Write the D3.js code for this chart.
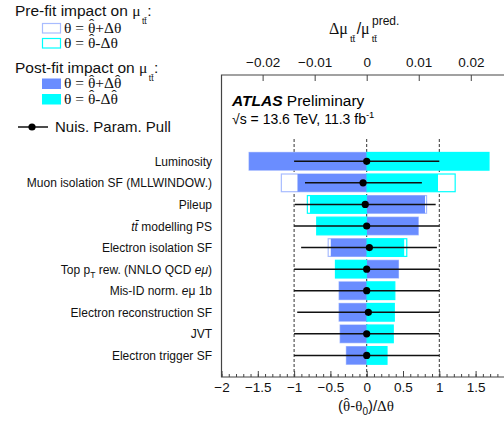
<!DOCTYPE html>
<html>
<head>
<meta charset="utf-8">
<script src="https://cdn.jsdelivr.net/npm/d3@7"></script>
<style>
  body { margin: 0; background: #fff; }
  svg { display: block; font-family: 'Liberation Sans', Arial, sans-serif; }
</style>
</head>
<body>
<svg width="504" height="422"></svg>
<script>
// nuisance parameters, top to bottom
const params = [
  'Luminosity',
  'Muon isolation SF (MLLWINDOW.)',
  'Pileup',
  '*tt\u0304* modelling PS',
  'Electron isolation SF',
  'Top p_{T} rew. (NNLO QCD *eμ*)',
  'Mis-ID norm. *e*μ 1b',
  'Electron reconstruction SF',
  'JVT',
  'Electron trigger SF',
]
// impact on mu_ttbar
const postUp = [-0.0226, -0.0133, 0.0112, 0.0099, -0.0069, 0.0061, -0.0053, -0.0053, -0.0051, -0.0039]
const postDown = [0.0235, 0.0137, -0.0109, -0.0096, 0.0072, -0.006, 0.0054, 0.0053, 0.0051, 0.0039]
const preUp = [-0.0226, -0.0164, 0.0115, 0.0099, -0.0074, 0.0061, -0.0053, -0.0053, -0.0051, -0.0039]
const preDown = [0.0235, 0.017, -0.0114, -0.0096, 0.0077, -0.006, 0.0054, 0.0053, 0.0051, 0.0039]
// pulls
const pull = [0, -0.05, -0.02, 0, 0.037, 0, 0, 0.023, 0, 0]
const pullErrLo = [1, 0.8, 0.97, 1, 0.94, 1, 1, 0.98, 1, 1]
const pullErrHi = [1, 0.81, 0.97, 1, 0.93, 1, 1, 0.98, 1, 1]

const pullTicks = [-2, -1.5, -1, -0.5, 0, 0.5, 1, 1.5]
const impactTicks = [-0.02, -0.01, 0, 0.01, 0.02]

const blue = '#6a8dff'
const cyan = '#00ffff'
const preBlue = '#a8bcff'
const frameCol = '#444'
const serif = "'Liberation Serif', 'Times New Roman', serif"

const svg = d3.select('svg')

const x = d3.scaleLinear().domain([-2, 2]).range([221.5, 511.9])
const ix = d3.scaleLinear().domain([-0.0279, 0.0279]).range([221.5, 511.9])
const y = d3.scaleLinear().domain([0, 14]).range([377, 75])
const rowY = (i) => y(params.length - i)
const barH = y(0) - y(0.82)

// rich text: *italic*, _{sub}
function rich(sel, str, subSize) {
  const parts = str.split(/(\*[^*]+\*|_\{[^}]+\})/).filter((s) => s.length)
  let shift = 0
  parts.forEach((p) => {
    const t = sel.append('tspan')
    if (p[0] === '*') {
      t.text(p.slice(1, -1)).attr('font-style', 'italic')
    } else if (p[0] === '_') {
      t.text(p.slice(2, -1)).attr('font-size', subSize).attr('dy', 4)
      shift = -4
      return
    } else {
      t.text(p)
    }
    if (shift) {
      t.attr('dy', shift)
      shift = 0
    }
  })
}

// theta with a hat on top, returns dx/dy the next tspan needs
function hatTheta(sel, size) {
  const w = 0.5 * size
  const hw = 0.333 * size
  sel.append('tspan').text('\u03b8').attr('font-family', serif)
  sel
    .append('tspan')
    .text('\u02c6')
    .attr('font-family', serif)
    .attr('dx', -(w / 2 + hw / 2))
    .attr('dy', -0.2 * size)
  return { dx: w / 2 - hw / 2, dy: 0.2 * size }
}

// dashed guide lines
svg
  .selectAll('.guide')
  .data([-1, 0, 1])
  .enter()
  .append('line')
  .attr('x1', (d) => x(d))
  .attr('x2', (d) => x(d))
  .attr('y1', y(0))
  .attr('y2', y(11.1))
  .attr('stroke', '#333')
  .attr('stroke-width', 1)
  .attr('stroke-dasharray', '3,2')

const rows = svg
  .selectAll('.row')
  .data(params)
  .enter()
  .append('g')
  .attr('class', 'row')

function bar(g, v, i) {
  return g
    .append('rect')
    .attr('x', Math.min(ix(0), ix(v)))
    .attr('width', Math.abs(ix(v) - ix(0)))
    .attr('y', rowY(i) - barH / 2)
    .attr('height', barH)
}

rows.each(function (d, i) {
  const g = d3.select(this)
  bar(g, preUp[i], i).attr('fill', 'white').attr('stroke', preBlue).attr('stroke-width', 1.2)
  bar(g, preDown[i], i).attr('fill', 'white').attr('stroke', cyan).attr('stroke-width', 1.2)
  bar(g, postUp[i], i).attr('fill', blue)
  bar(g, postDown[i], i).attr('fill', cyan)
})

// pulls
rows
  .append('line')
  .attr('x1', (d, i) => x(pull[i] - pullErrLo[i]))
  .attr('x2', (d, i) => x(pull[i] + pullErrHi[i]))
  .attr('y1', (d, i) => rowY(i))
  .attr('y2', (d, i) => rowY(i))
  .attr('stroke', '#111')
  .attr('stroke-width', 1.5)

rows
  .append('circle')
  .attr('cx', (d, i) => x(pull[i]))
  .attr('cy', (d, i) => rowY(i))
  .attr('r', 3.6)
  .attr('fill', '#000')

// labels
rows
  .append('text')
  .attr('x', 212)
  .attr('y', (d, i) => rowY(i) + 4.5)
  .attr('text-anchor', 'end')
  .attr('font-size', 12)
  .attr('fill', '#111')
  .each(function (d) {
    rich(d3.select(this), d, 8.5)
  })

// frame
svg
  .append('path')
  .attr('d', `M${x(2)},${y(14)}H${x(-2)}V${y(0)}H${x(2)}`)
  .attr('fill', 'none')
  .attr('stroke', frameCol)
  .attr('stroke-width', 1.2)

// bottom axis
const fmt = (d) => (d < 0 ? '\u2212' + Math.abs(d) : '' + d)
const xAxis = d3.axisBottom(x).tickValues(pullTicks).tickSize(-6).tickPadding(5).tickFormat(fmt)
const xMinor = d3.axisBottom(x).tickValues(d3.range(-20, 21).map((d) => d / 10)).tickSize(-3).tickFormat('')

svg.append('g').attr('transform', `translate(0,${y(0)})`).call(xMinor)
svg.append('g').attr('transform', `translate(0,${y(0)})`).call(xAxis)

const ixAxis = d3.axisTop(ix).tickValues(impactTicks).tickSize(-6).tickPadding(8).tickFormat(fmt)
svg.append('g').attr('transform', `translate(0,${y(14)})`).call(ixAxis)

svg.selectAll('.domain').remove()
svg.selectAll('.tick line').attr('stroke', frameCol)
svg.selectAll('.tick text').attr('font-size', 13.5).attr('fill', '#111').attr('font-family', "'Liberation Sans', Arial, sans-serif")

// axis titles
const bt = svg
  .append('text')
  .attr('x', 338)
  .attr('y', 411)
  .attr('font-size', 15)
  .attr('fill', '#111')
bt.append('tspan').text('(')
let h = hatTheta(bt, 15)
bt.append('tspan').text('-').attr('dx', h.dx).attr('dy', h.dy)
bt.append('tspan').text('\u03b8').attr('font-family', serif)
bt.append('tspan').text('0').attr('font-size', 10).attr('dy', 4)
bt.append('tspan').text(')/').attr('dy', -4)
bt.append('tspan').text('\u0394\u03b8').attr('font-family', serif)

const tt = svg
  .append('text')
  .attr('x', 329)
  .attr('y', 34)
  .attr('font-size', 16)
  .attr('fill', '#111')
tt.append('tspan').text('\u0394\u03bc').attr('font-family', serif)
tt.append('tspan').text('tt\u0304').attr('font-size', 9.5).attr('dy', 8).attr('dx', 2)
tt.append('tspan').text('/').attr('dy', -8).attr('dx', 1.5)
tt.append('tspan').text('\u03bc').attr('font-family', serif)
tt.append('tspan').text('tt\u0304').attr('font-size', 9.5).attr('dy', 8).attr('dx', 2)
tt.append('tspan').text('pred.').attr('font-size', 12).attr('dy', -17).attr('dx', -5)

// ATLAS label
const at = svg.append('text').attr('x', 232).attr('y', 106).attr('font-size', 15.5).attr('fill', '#000')
at.append('tspan').text('ATLAS').attr('font-weight', 'bold').attr('font-style', 'italic')
at.append('tspan').text(' Preliminary')
const en = svg.append('text').attr('x', 232).attr('y', 124).attr('font-size', 14).attr('fill', '#000')
en.append('tspan').text('\u221as = 13.6 TeV, 11.3 fb')
en.append('tspan').text('-1').attr('font-size', 9.5).attr('dy', -6)

// legend
function legendTitle(yy, label) {
  const t = svg.append('text').attr('x', 15).attr('y', yy).attr('font-size', 15.5).attr('fill', '#111')
  t.append('tspan').text(label + ' impact on ')
  t.append('tspan').text('\u03bc').attr('font-family', serif)
  t.append('tspan').text('tt\u0304').attr('font-size', 8.5).attr('dy', 8).attr('dx', 1.5)
  t.append('tspan').text(':').attr('dy', -8).attr('dx', 0.5)
}
legendTitle(16, 'Pre-fit')
legendTitle(73, 'Post-fit')

const legendItems = [
  { y0: 23, fill: 'white', stroke: preBlue, sign: '+', hatDelta: false },
  { y0: 38, fill: 'white', stroke: cyan, sign: '-', hatDelta: false },
  { y0: 78.5, fill: blue, stroke: 'none', sign: '+', hatDelta: true },
  { y0: 94, fill: cyan, stroke: 'none', sign: '-', hatDelta: true },
]
legendItems.forEach((d) => {
  svg
    .append('rect')
    .attr('x', d.fill === 'white' ? 42.5 : 42)
    .attr('y', d.fill === 'white' ? d.y0 + 0.5 : d.y0)
    .attr('width', d.fill === 'white' ? 18 : 19)
    .attr('height', d.fill === 'white' ? 9.5 : 10.5)
    .attr('fill', d.fill)
    .attr('stroke', d.stroke)
    .attr('stroke-width', 1.2)
  const t = svg
    .append('text')
    .attr('x', 64)
    .attr('y', d.y0 + 9.5)
    .attr('font-size', 15.5)
    .attr('font-family', serif)
    .attr('fill', '#111')
  t.append('tspan').text('\u03b8 = ')
  const h1 = hatTheta(t, 15.5)
  t.append('tspan').text(d.sign + '\u0394').attr('dx', h1.dx).attr('dy', h1.dy)
  if (d.hatDelta) hatTheta(t, 15.5)
  else t.append('tspan').text('\u03b8')
})

svg.append('line').attr('x1', 18).attr('x2', 48).attr('y1', 127).attr('y2', 127).attr('stroke', '#111').attr('stroke-width', 1.5)
svg.append('circle').attr('cx', 32).attr('cy', 127).attr('r', 3.6).attr('fill', '#000')
svg.append('text').attr('x', 55).attr('y', 132).attr('font-size', 15).attr('fill', '#111').text('Nuis. Param. Pull')
</script>
</body>
</html>
